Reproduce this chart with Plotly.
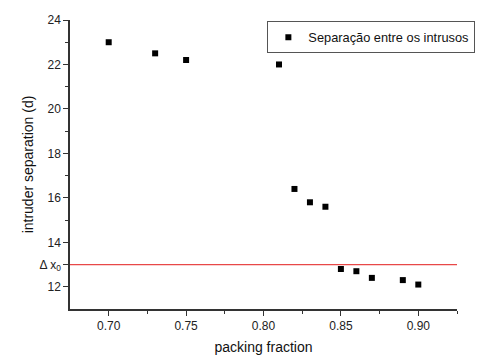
import plotly.graph_objects as go

packing_fraction = [0.70, 0.73, 0.75, 0.81, 0.82, 0.83, 0.84, 0.85, 0.86, 0.87, 0.89, 0.90]
separation = [23.0, 22.5, 22.2, 22.0, 16.4, 15.8, 15.6, 12.8, 12.7, 12.4, 12.3, 12.1]
delta_x0 = 13.0
series_name = "Separação entre os intrusos"

y_tickvals = [12, 13, 14, 16, 18, 20, 22, 24]
y_ticktext = ["12", "Δ x<sub>0</sub>", "14", "16", "18", "20", "22", "24"]
x_tickvals = [0.70, 0.75, 0.80, 0.85, 0.90]
x_ticktext = ["0.70", "0.75", "0.80", "0.85", "0.90"]

fig = go.Figure()
fig.add_trace(go.Scatter(
    x=packing_fraction, y=separation, mode="markers", name=series_name,
    marker=dict(symbol="square", size=6, color="black"),
))
fig.add_shape(type="line", xref="paper", x0=0, x1=1, yref="y", y0=delta_x0, y1=delta_x0,
              line=dict(color="#e84848", width=1.2))

axis_common = dict(
    showgrid=False, zeroline=False, showline=True, linecolor="#333333", linewidth=1.5,
    ticks="outside", ticklen=5, tickwidth=1, tickcolor="#333333",
    tickfont=dict(family="Liberation Sans, Arial", size=12, color="#222222"),
    mirror=False, automargin=False,
)

fig.update_layout(
    width=483, height=348,
    margin=dict(l=62, r=34, t=12, b=47),
    paper_bgcolor="white", plot_bgcolor="white",
    font=dict(family="Liberation Sans, Arial", size=13, color="#111111"),
    xaxis=dict(range=[0.675, 0.925], tickmode="array", tickvals=x_tickvals, ticktext=x_ticktext,
               title=dict(text="packing fraction", font=dict(size=14), standoff=10),
               minor=dict(tickvals=[0.725, 0.775, 0.825, 0.875, 0.925], ticklen=3, tickcolor="#333333", ticks="outside"),
               **axis_common),
    yaxis=dict(range=[11, 24], tickmode="array", tickvals=y_tickvals, ticktext=y_ticktext,
               title=dict(text="intruder separation (d)", font=dict(size=14), standoff=3),
               minor=dict(tickvals=[15, 17, 19, 21, 23], ticklen=3, tickcolor="#333333", ticks="outside"),
               **axis_common),
    showlegend=True,
    legend=dict(x=0.51, y=0.995, xanchor="left", yanchor="top", bordercolor="#555555", borderwidth=1,
                bgcolor="white", font=dict(size=12.8), itemwidth=30,
                ),
)

fig.write_html("out.html")
